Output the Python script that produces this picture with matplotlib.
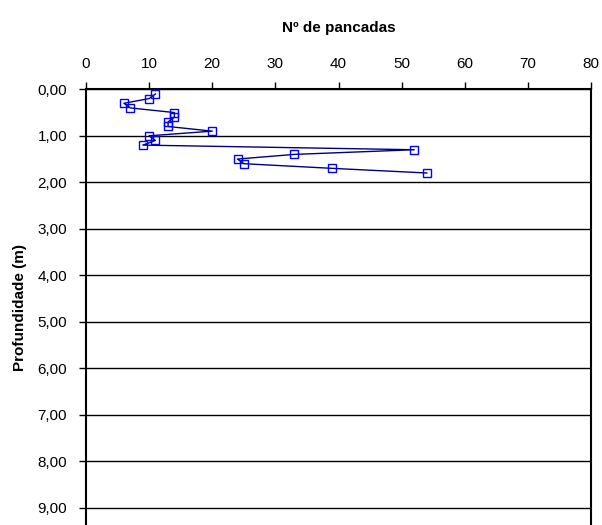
import matplotlib.pyplot as plt
from matplotlib.ticker import FuncFormatter

plt.rcParams['font.family'] = ['Liberation Sans', 'DejaVu Sans']

# blow counts per depth
depth = [0.1, 0.2, 0.3, 0.4, 0.5, 0.6, 0.7, 0.8, 0.9, 1.0, 1.1, 1.2,
         1.3, 1.4, 1.5, 1.6, 1.7, 1.8]
blows = [11, 10, 6, 7, 14, 14, 13, 13, 20, 10, 11, 9,
         52, 33, 24, 25, 39, 54]
x_ticks = [0, 10, 20, 30, 40, 50, 60, 70, 80]
y_ticks = [0, 1, 2, 3, 4, 5, 6, 7, 8, 9]

fig = plt.figure(figsize=(6.02, 5.25), dpi=100)
ax = fig.add_axes([86 / 602, 0, 505 / 602, 1 - 89.3 / 525])

ax.plot(blows, depth, color='#000080', lw=1.0, marker='s', ms=6.3,
        mfc='none', mec='#0000ff', mew=1.0, zorder=3)

ax.set_xlim(0, 80)
ax.set_ylim(9.37, 0)
ax.set_xticks(x_ticks)
ax.set_yticks(y_ticks)
ax.yaxis.set_major_formatter(FuncFormatter(lambda v, p: f'{v:.2f}'.replace('.', ',')))

ax.xaxis.tick_top()
ax.xaxis.set_label_position('top')
ax.tick_params(axis='x', direction='out', length=5, width=1, pad=8.5, labelsize=11)
ax.tick_params(axis='y', direction='out', length=5, width=1, pad=8.5, labelsize=11)

ax.grid(axis='y', color='black', lw=1.0)
ax.set_axisbelow(True)

for side in ('left', 'right', 'top'):
    ax.spines[side].set_linewidth(1.5)
ax.spines['bottom'].set_visible(False)

ax.set_xlabel('Nº de pancadas', fontweight='bold', fontsize=11, labelpad=18)
ax.set_ylabel('Profundidade (m)', fontweight='bold', fontsize=11, labelpad=7.5)

fig.savefig('out.png', dpi=100)
